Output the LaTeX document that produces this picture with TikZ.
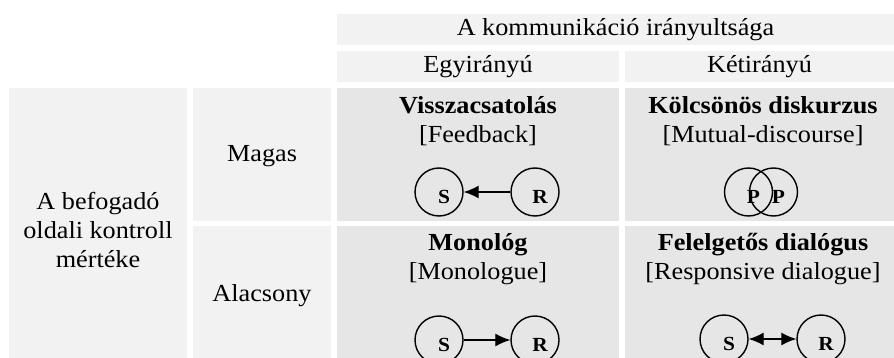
\documentclass[tikz,border=0pt]{standalone}
\usepackage{fontspec}
\setmainfont{Liberation Serif}[FakeStretch=1.07]
\usetikzlibrary{arrows.meta}
\definecolor{headgray}{HTML}{F2F2F2}
\definecolor{cellgray}{HTML}{E6E6E6}

\begin{document}
\begin{tikzpicture}[x=1pt,y=-1pt,
        txt/.style={font=\fontsize{24.5}{29}\selectfont,inner sep=0pt,align=center},
        actor/.style={circle,draw,line width=1.4pt,minimum size=48pt,inner sep=0pt},
        tag/.style={font=\bfseries\fontsize{20}{20}\selectfont,xshift=5pt,yshift=-5pt},
        flow/.style={line width=1.3pt},
        tip/.style={-{Latex[length=15pt,width=13pt]}}]
            \useasboundingbox (0,0) rectangle (894,358);

            % cells
            \fill[headgray] (337,14) rectangle (894,45);
            \fill[headgray] (337,51) rectangle (619,82);
            \fill[headgray] (625,51) rectangle (894,82);
            \fill[headgray] (9,88) rectangle (187,358);
            \fill[headgray] (193,88) rectangle (331,221);
            \fill[headgray] (193,226) rectangle (331,358);
            \fill[cellgray] (337,88) rectangle (619,221);
            \fill[cellgray] (625,88) rectangle (894,221);
            \fill[cellgray] (337,226) rectangle (619,358);
            \fill[cellgray] (625,226) rectangle (894,358);

            \begin{scope}[every node/.style={txt}]
                \node (dir) at (615.5,30) {A kommunikáció irányultsága};
                \node (one) at (478,66.5) {Egyirányú};
                \node (two) at (759.5,66.5) {Kétirányú};
                \node (ctrl) at (98,230) {A befogadó\\oldali kontroll\\mértéke};
                \node (high) at (262,156) {Magas};
                \node (low) at (262,296) {Alacsony};
            \end{scope}
            \begin{scope}[every node/.style={txt}]
                \node (fb) at (478,121.5) {\textbf{Visszacsatolás}\\{[Feedback]}};
                \node (md) at (763,121.5) {\textbf{Kölcsönös diskurzus}\\{[Mutual-discourse]}};
                \node (mono) at (478,259.5) {\textbf{Monológ}\\{[Monologue]}};
                \node (rd) at (763,259.5) {\textbf{Felelgetős dialógus}\\{[Responsive dialogue]}};
            \end{scope}

            \begin{scope}[every node/.style={actor}]
                \node[label={[tag]center:S}] (s1) at (439,192) {};
                \node[label={[tag]center:R}] (r1) at (535,192) {};
                \node[label={[tag]center:P}] (p1) at (748.5,192) {};
                \node[label={[tag]center:P}] (p2) at (773.5,192) {};
                \node[label={[tag]center:S}] (s2) at (439,340) {};
                \node[label={[tag]center:R}] (r2) at (535,340) {};
                \node[label={[tag]center:S}] (s3) at (724,339) {};
                \node[label={[tag]center:R}] (r3) at (821,339) {};
            \end{scope}

            \draw[flow,tip] (r1) -- (s1);
            \draw[flow,tip] (s2) -- (r2);
            \draw[flow,{Latex[length=15pt,width=13pt]}-{Latex[length=15pt,width=13pt]}] (s3) -- (r3);
        \end{tikzpicture}
\end{document}
